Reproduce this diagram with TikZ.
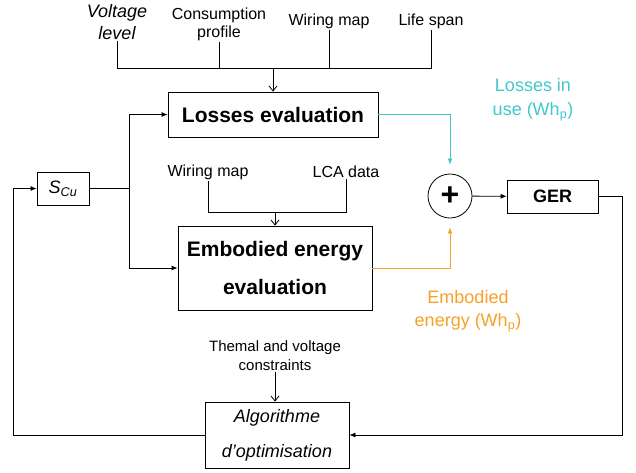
\documentclass[tikz,border=0pt]{standalone}
\usepackage{fontspec}
\setmainfont{Liberation Sans}
\usepackage{tikz}
\usetikzlibrary{arrows.meta}

\definecolor{lossclr}{RGB}{64,200,205}
\definecolor{embclr}{RGB}{248,160,40}

\begin{document}
\begin{tikzpicture}[x=1pt,y=-1pt]
\tikzset{BlockStyle/.style={draw,thick,inner sep=0pt,align=center},
         LabelStyle/.style={inner sep=1pt,align=center,font=\fontsize{16}{18}\selectfont},
         EdgeStyle/.style={thick,-{Latex[length=6pt,width=5pt]}},
         OpenStyle/.style={thick,-{Straight Barb[length=5pt,width=8pt]}}}
\useasboundingbox (0,0) rectangle (636,472);
% inputs on top
\node[LabelStyle,font=\fontsize{18}{22}\selectfont\itshape] (volt) at (117,22) {Voltage\\level};
\node[LabelStyle] (cons) at (219,24) {Consumption\\profile};
\node[LabelStyle] (wmapA) at (329,21) {Wiring map};
\node[LabelStyle] (life) at (431,21) {Life span};
\coordinate (jnA) at (273,68);
% blocks
\node[BlockStyle,minimum width=210,minimum height=45,font=\fontsize{21}{24}\bfseries] (loss) at (273,114.5) {Losses evaluation};
\node[BlockStyle,minimum width=194,minimum height=84,font=\fontsize{21}{38}\bfseries] (emb) at (275,268) {Embodied energy\\evaluation};
\node[BlockStyle,minimum width=52,minimum height=33,font=\fontsize{18}{22}\itshape] (scu) at (63,188.5) {S\textsubscript{Cu}};
\node[draw,thick,circle,minimum size=44,inner sep=0pt,font=\fontsize{32}{32}\bfseries] (plus) at (450,196) {+};
\node[BlockStyle,minimum width=91,minimum height=33,font=\fontsize{18}{22}\bfseries] (ger) at (552.5,196.5) {GER};
\node[BlockStyle,minimum width=144,minimum height=66,font=\fontsize{18}{35}\itshape] (algo) at (277,435) {Algorithme\\d'optimisation};
% inputs of the embodied energy
\node[LabelStyle] (wmapB) at (208,172) {Wiring map};
\node[LabelStyle] (lca) at (346,172) {LCA data};
\coordinate (jnB) at (275,212);
\node[LabelStyle,font=\fontsize{15}{19}\selectfont] (cstr) at (275,356) {Themal and voltage\\constraints};
% outputs
\node[LabelStyle,text=lossclr,font=\fontsize{18}{24}\selectfont] (lossout) at (533,100) {Losses in\\use (Wh\textsubscript{p})};
\node[LabelStyle,text=embclr,font=\fontsize{18}{23}\selectfont] (embout) at (468,311) {Embodied\\energy (Wh\textsubscript{p})};

\draw[thick] (volt.south) |- (life.south |- jnA) -- (life.south);
\draw[thick] (cons.south) -- (cons.south |- jnA);
\draw[thick] (wmapA.south) -- (wmapA.south |- jnA);
\draw[OpenStyle] (jnA) -- (loss.north);
\draw[thick] (wmapB.south) |- (lca.south |- jnB) -- (lca.south);
\draw[OpenStyle] (jnB) -- (emb.north);
\draw[OpenStyle] (cstr.south) -- (cstr.south |- algo.north);

\draw[thick] (scu.east) -- (129,188.5) coordinate (split);
\draw[EdgeStyle] (split) |- (loss.west);
\draw[EdgeStyle] (split) |- (emb.west);
\draw[EdgeStyle,lossclr,shorten >=9pt] (loss.east) -| (plus.north);
\draw[EdgeStyle,embclr,shorten >=9pt] (emb.east) -| (plus.south);
\draw[EdgeStyle] (plus) -- (ger);
\draw[EdgeStyle] (ger.east) -- (622,196.5) |- (algo.east);
\draw[EdgeStyle] (algo.west) -- (13,435) |- (scu.west);
\end{tikzpicture}
\end{document}
